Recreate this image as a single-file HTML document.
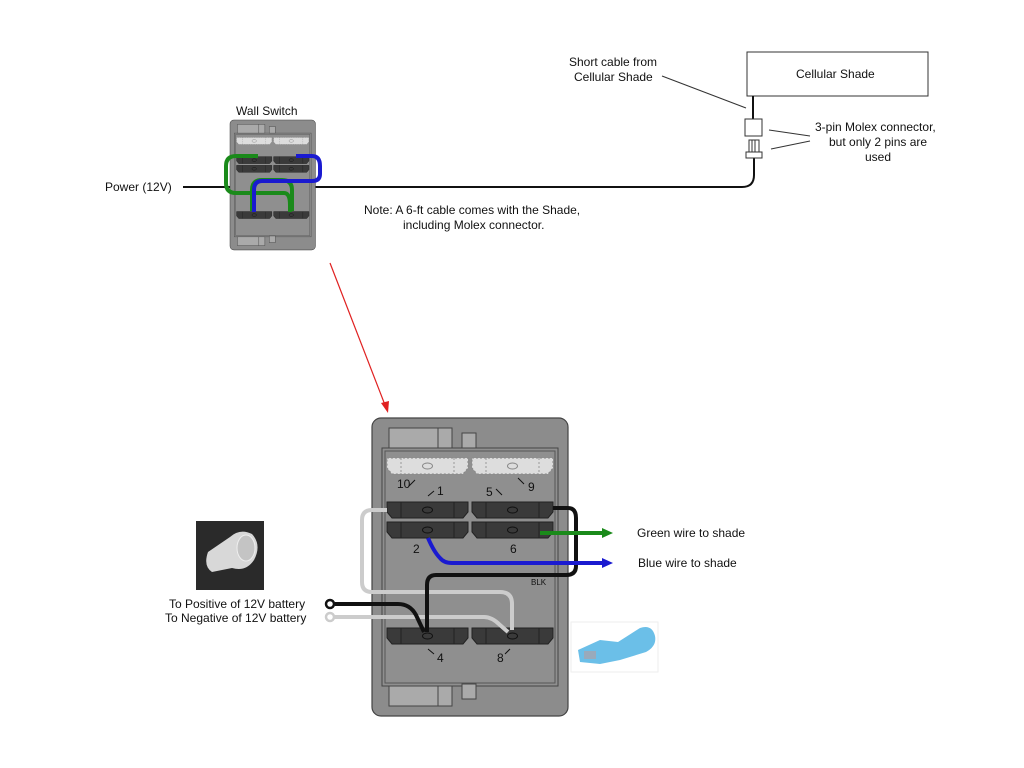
<!DOCTYPE html>
<html><head><style>body{margin:0;background:#fff}svg{display:block}text{font-family:"Liberation Sans",sans-serif;font-size:12px;fill:#111}</style></head>
<body>
<svg width="1024" height="768" viewBox="0 0 1024 768" xmlns="http://www.w3.org/2000/svg">
<defs>
<g id="blk"><path d="M0 0H81V10L76 16H5L0 10Z" fill="#3a3a3a" stroke="#222" stroke-width="1"/><line x1="14" y1="0" x2="14" y2="16" stroke="#222"/><line x1="67" y1="0" x2="67" y2="16" stroke="#222"/><ellipse cx="40.5" cy="8" rx="5" ry="3" fill="none" stroke="#111"/></g>
<g id="lblk"><path d="M0 0H81V10L76 16H5L0 10Z" fill="#ddd" stroke="#888" stroke-dasharray="2 2"/><line x1="14" y1="0" x2="14" y2="16" stroke="#999" stroke-dasharray="2 2"/><line x1="67" y1="0" x2="67" y2="16" stroke="#999" stroke-dasharray="2 2"/><ellipse cx="40.5" cy="8" rx="5" ry="3" fill="none" stroke="#888"/></g>
<g id="body">
<rect x="0" y="0" width="196" height="298" rx="9" fill="#8c8c8c" stroke="#444" stroke-width="1.2"/>
<rect x="10" y="30" width="176" height="238" fill="#8f8f8f" stroke="#444"/>
<rect x="13" y="33" width="170" height="232" fill="none" stroke="#555"/>
<rect x="17" y="10" width="63" height="20" fill="#aaa" stroke="#444"/><line x1="66" y1="10" x2="66" y2="30" stroke="#444"/>
<rect x="90" y="15" width="14" height="15" fill="#aaa" stroke="#444"/>
<rect x="17" y="268" width="63" height="20" fill="#aaa" stroke="#444"/><line x1="66" y1="268" x2="66" y2="288" stroke="#444"/>
<rect x="90" y="266" width="14" height="15" fill="#aaa" stroke="#444"/>
<use href="#lblk" x="15" y="40"/><use href="#lblk" x="100" y="40"/>
<use href="#blk" x="15" y="84"/><use href="#blk" x="100" y="84"/>
<use href="#blk" x="15" y="104"/><use href="#blk" x="100" y="104"/>
<use href="#blk" x="15" y="210"/><use href="#blk" x="100" y="210"/>
</g>
</defs>

<!-- top section -->
<line x1="183" y1="187" x2="742" y2="187" stroke="#111" stroke-width="2"/>
<path d="M742 187 Q754 187 754 175 V158" fill="none" stroke="#111" stroke-width="2"/>
<text x="105" y="191">Power (12V)</text>
<g transform="translate(230,120) scale(0.436)"><use href="#body"/></g>
<path d="M252 211 V190 Q252 180 262 180 H282 Q292 180 292 190 V211" fill="none" stroke="#1a8a1a" stroke-width="4"/>
<path d="M258 156 H236 Q226 156 226 166 V183 Q226 193 236 193 H284 Q290 193 290 205 V212" fill="none" stroke="#1a8a1a" stroke-width="4"/>
<path d="M296 156 H312 Q320 156 320 166 V174 Q320 181 312 181 H262 Q254 181 254 190 V212" fill="none" stroke="#1a1ad0" stroke-width="4"/>
<text x="236" y="115">Wall Switch</text>
<text x="364" y="214">Note: A 6-ft cable comes with the Shade,</text>
<text x="403" y="229">including Molex connector.</text>

<rect x="747" y="52" width="181" height="44" fill="#fff" stroke="#333"/>
<text x="796" y="78">Cellular Shade</text>
<line x1="753" y1="96" x2="753" y2="119" stroke="#111" stroke-width="2"/>
<rect x="745" y="119" width="17" height="17" fill="#fff" stroke="#333"/>
<rect x="749" y="140" width="10" height="12" fill="#fff" stroke="#333"/>
<line x1="752" y1="140" x2="752" y2="152" stroke="#333"/><line x1="755" y1="140" x2="755" y2="152" stroke="#333"/>
<rect x="746" y="152" width="16" height="6" fill="#fff" stroke="#333"/>
<text x="569" y="66">Short cable from</text>
<text x="574" y="81">Cellular Shade</text>
<line x1="662" y1="76" x2="746" y2="108" stroke="#333"/>
<text x="815" y="131">3-pin Molex connector,</text>
<text x="829" y="146">but only 2 pins are</text>
<text x="865" y="161">used</text>
<line x1="769" y1="130" x2="810" y2="136" stroke="#333"/>
<line x1="771" y1="149" x2="810" y2="141" stroke="#333"/>

<!-- red arrow -->
<line x1="330" y1="263" x2="385" y2="405" stroke="#e02020" stroke-width="1.2"/>
<path d="M388 413 L381 403 L389 401 Z" fill="#e02020"/>

<!-- big switch -->
<use href="#body" x="372" y="418"/>
<!-- wires -->
<path d="M387 510 H372 Q362 510 362 520 V582 Q362 592 372 592 H500 Q512 592 512 604 V630" fill="none" stroke="#ccc" stroke-width="4"/>
<path d="M333 617 H484 Q492 617 500 625 L508 632" fill="none" stroke="#ccc" stroke-width="4"/>
<path d="M335 604 H398 Q410 604 416 615 L424 632" fill="none" stroke="#111" stroke-width="4"/>
<path d="M553 508 H568 Q576 508 576 518 V566 Q576 575 566 575 H436 Q427 575 427 585 V632" fill="none" stroke="#111" stroke-width="4"/>
<path d="M540 533 H604" fill="none" stroke="#1a8a1a" stroke-width="4"/>
<path d="M613 533 L602 528 L602 538 Z" fill="#1a8a1a"/>
<path d="M428 538 Q434 552 440 558 Q444 563 452 563 H604" fill="none" stroke="#1a1ad0" stroke-width="4"/>
<path d="M613 563 L602 558 L602 568 Z" fill="#1a1ad0"/>
<circle cx="330" cy="604" r="4" fill="#fff" stroke="#111" stroke-width="2.5"/>
<circle cx="330" cy="617" r="4" fill="#fff" stroke="#ccc" stroke-width="2.5"/>
<text x="531" y="585" style="font-size:8px">BLK</text>

<text x="397" y="488">10</text><text x="437" y="495">1</text><text x="486" y="496">5</text><text x="528" y="491">9</text>
<text x="413" y="553">2</text><text x="510" y="553">6</text>
<text x="437" y="662">4</text><text x="497" y="662">8</text>
<g stroke="#111" stroke-width="1" fill="none">
<line x1="409" y1="486" x2="415" y2="480"/><line x1="434" y1="491" x2="428" y2="496"/>
<line x1="496" y1="489" x2="502" y2="495"/><line x1="524" y1="484" x2="518" y2="478"/>
<line x1="434" y1="654" x2="428" y2="649"/><line x1="505" y1="654" x2="510" y2="649"/>
</g>
<text x="637" y="537">Green wire to shade</text>
<text x="638" y="567">Blue wire to shade</text>
<text x="169" y="608">To Positive of 12V battery</text>
<text x="165" y="622">To Negative of 12V battery</text>

<!-- photos -->
<rect x="196" y="521" width="68" height="69" fill="#2a2a2a"/>
<path d="M208 552 L230 537 Q240 528 252 534 Q262 545 254 560 Q246 572 232 568 L212 572 Q203 566 208 552Z" fill="#d8d8d8"/>
<ellipse cx="246" cy="548" rx="9" ry="13" fill="#c4c4c4" stroke="#eee"/>
<rect x="571" y="622" width="87" height="50" fill="#fff" stroke="#eee"/>
<path d="M578 650 L600 640 L618 642 L640 628 Q652 624 655 636 Q657 646 646 652 L620 660 L600 664 L580 662 Z" fill="#6bbfe8"/>
<rect x="584" y="651" width="12" height="8" fill="#9ab"/>
</svg>
</body></html>
